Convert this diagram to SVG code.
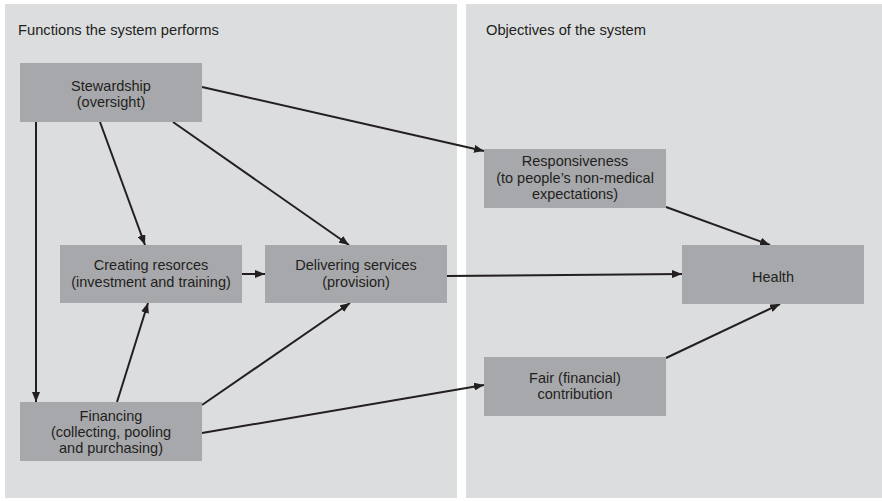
<svg xmlns="http://www.w3.org/2000/svg" width="882" height="501" viewBox="0 0 882 501">
<defs>
<style>
.panel{fill:#dcdddf}
.box{fill:#a7a8ab}
.t{font-family:"Liberation Sans",Arial,sans-serif;font-size:14.5px;fill:#231f20;text-anchor:middle}
.h{font-family:"Liberation Sans",Arial,sans-serif;font-size:14.7px;fill:#231f20}
.c{stroke:#231f20;stroke-width:2;fill:none;marker-end:url(#ah)}
</style>
<marker id="ah" viewBox="0 0 10 8" refX="10" refY="4" markerWidth="10" markerHeight="8" markerUnits="userSpaceOnUse" orient="auto">
<path d="M0,0 L10,4 L0,8 Z" fill="#231f20"/>
</marker>
</defs>
<rect width="882" height="501" fill="#ffffff"/>
<g id="panel-functions">
<rect class="panel" x="5" y="4" width="452" height="494"/>
<text class="h" x="18" y="35">Functions the system performs</text>
</g>
<g id="panel-objectives">
<rect class="panel" x="466" y="4" width="416" height="494"/>
<text class="h" x="486" y="35">Objectives of the system</text>
</g>
<g id="connectors">
<line class="c" x1="202" y1="87" x2="484" y2="151"/>
<line class="c" x1="36" y1="122" x2="36" y2="402"/>
<line class="c" x1="100" y1="122" x2="145" y2="245"/>
<line class="c" x1="173" y1="122" x2="349" y2="245"/>
<line class="c" x1="242" y1="274" x2="265" y2="274"/>
<line class="c" x1="447" y1="276" x2="682" y2="274"/>
<line class="c" x1="117" y1="402" x2="148" y2="303"/>
<line class="c" x1="202" y1="405" x2="350" y2="303"/>
<line class="c" x1="202" y1="433" x2="484" y2="385"/>
<line class="c" x1="666" y1="207" x2="770" y2="245"/>
<line class="c" x1="666" y1="358" x2="780" y2="304"/>
</g>
<g id="stewardship">
<rect class="box" x="20" y="63" width="182" height="59"/>
<text class="t" x="111" y="90.5">Stewardship</text>
<text class="t" x="111" y="106.8">(oversight)</text>
</g>
<g id="creating-resources">
<rect class="box" x="60" y="245" width="182" height="58"/>
<text class="t" x="151" y="270.4">Creating resorces</text>
<text class="t" x="151" y="286.7">(investment and training)</text>
</g>
<g id="delivering-services">
<rect class="box" x="265" y="245" width="182" height="58"/>
<text class="t" x="356" y="270.4">Delivering services</text>
<text class="t" x="356" y="286.7">(provision)</text>
</g>
<g id="financing">
<rect class="box" x="20" y="402" width="182" height="59"/>
<text class="t" x="111" y="420.7">Financing</text>
<text class="t" x="111" y="437">(collecting, pooling</text>
<text class="t" x="111" y="453.3">and purchasing)</text>
</g>
<g id="responsiveness">
<rect class="box" x="484" y="149" width="182" height="59"/>
<text class="t" x="575" y="166.4">Responsiveness</text>
<text class="t" x="575" y="182.7">(to people’s non-medical</text>
<text class="t" x="575" y="199">expectations)</text>
</g>
<g id="health">
<rect class="box" x="682" y="245" width="182" height="59"/>
<text class="t" x="773" y="282">Health</text>
</g>
<g id="fair-contribution">
<rect class="box" x="484" y="357" width="182" height="59"/>
<text class="t" x="575" y="383">Fair (financial)</text>
<text class="t" x="575" y="399.3">contribution</text>
</g>
</svg>
